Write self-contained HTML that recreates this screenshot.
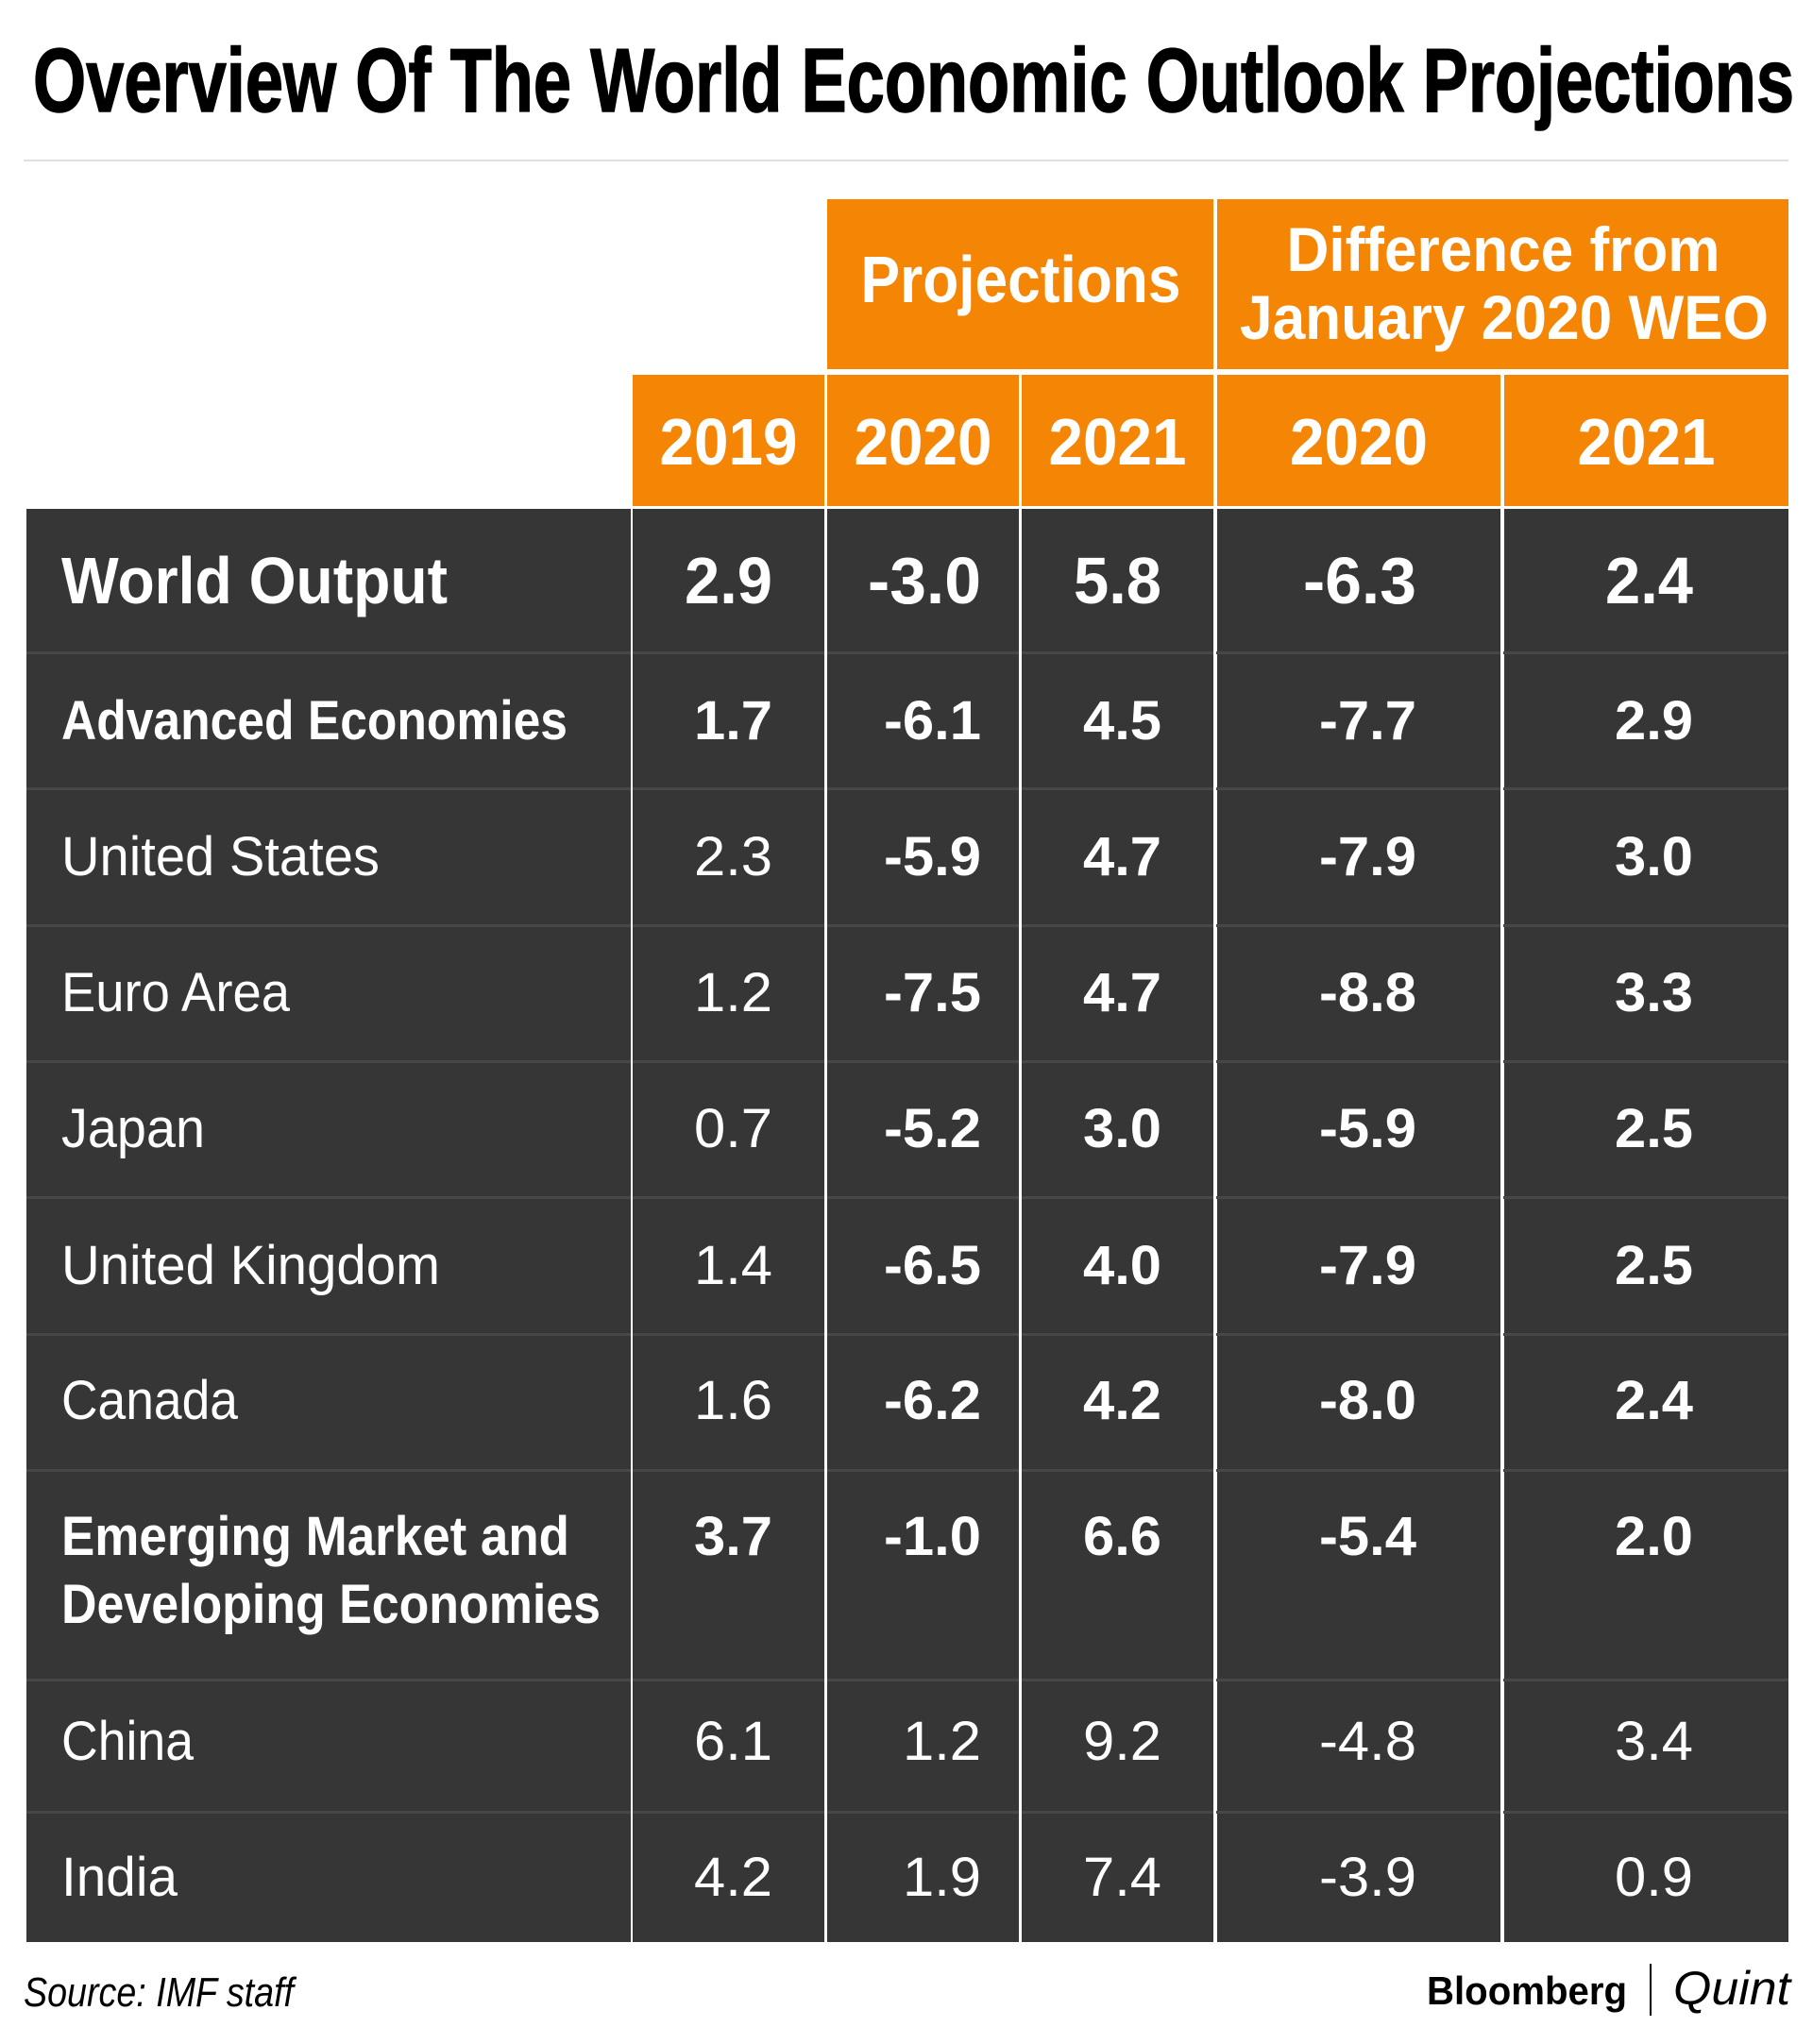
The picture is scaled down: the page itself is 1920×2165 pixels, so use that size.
<!DOCTYPE html>
<html><head><meta charset="utf-8"><style>
html,body{margin:0;padding:0;background:#fff}
svg{display:block}
text{font-family:"Liberation Sans",sans-serif}
</style></head><body>
<svg id="chart" width="1920" height="2165" viewBox="0 0 1920 2165" xmlns="http://www.w3.org/2000/svg">
<rect x="0" y="0" width="1920" height="2165" fill="#fff"/>
<text x="35" y="118" font-size="96" font-weight="bold" fill="#000" stroke="#000" stroke-width="1.5" textLength="1865" lengthAdjust="spacingAndGlyphs">Overview Of The World Economic Outlook Projections</text>
<rect x="25" y="169" width="1869" height="2" fill="#e0e0e0"/>
<g id="table"></g>
<text x="25" y="2125" font-size="44" font-style="italic" fill="#000" textLength="286" lengthAdjust="spacingAndGlyphs">Source: IMF staff</text>
<text x="1511" y="2123" font-size="42" font-weight="bold" fill="#000" textLength="212" lengthAdjust="spacingAndGlyphs">Bloomberg</text>
<rect x="1747" y="2080" width="2" height="55" fill="#000"/>
<text x="1772" y="2123" font-size="50" font-style="italic" fill="#000" font-family="Liberation Serif,serif" textLength="124" lengthAdjust="spacingAndGlyphs">Quint</text>
</svg>
<script>
const rowLabels = ["World Output","Advanced Economies","United States","Euro Area","Japan","United Kingdom","Canada","Emerging Market and|Developing Economies","China","India"];
const labelBold = [true,true,false,false,false,false,false,true,false,false];
const valueBold = [true,true,true,true,true,true,true,true,false,false];
const proj2019 = [2.9,1.7,2.3,1.2,0.7,1.4,1.6,3.7,6.1,4.2];
const proj2020 = [-3.0,-6.1,-5.9,-7.5,-5.2,-6.5,-6.2,-1.0,1.2,1.9];
const proj2021 = [5.8,4.5,4.7,4.7,3.0,4.0,4.2,6.6,9.2,7.4];
const diff2020 = [-6.3,-7.7,-7.9,-8.8,-5.9,-7.9,-8.0,-5.4,-4.8,-3.9];
const diff2021 = [2.4,2.9,3.0,3.3,2.5,2.5,2.4,2.0,3.4,0.9];
const yearLabels = ["2019","2020","2021","2020","2021"];

const NS="http://www.w3.org/2000/svg";
const g=document.getElementById('table');
function mk(tag,attrs,parent){const e=document.createElementNS(NS,tag);for(const k in attrs)e.setAttribute(k,attrs[k]);(parent||g).appendChild(e);return e;}
const ORANGE="#f58505", DARK="#363636";
const colX=[[670,873],[876,1079],[1082,1285],[1289,1589],[1593,1894]];
const numRight=[818,1039,1230,1500,1793];
const labelW=[409,536,337,242,152,401,187,[538,571],140,123];
const rowEdges=[539,692,836,981,1125,1269,1414,1558,1780,1920,2057];
const centers=[614,762,906,1050,1194,1339,1482,1626,1843,1987];

let e=mk('rect',{x:876,y:211,width:409,height:180,fill:ORANGE});


e=mk('text',{x:1081,y:320,'font-size':70,'font-weight':'bold',fill:'#fff','text-anchor':'middle',textLength:339,lengthAdjust:'spacingAndGlyphs'});
e.textContent="Projections";


e=mk('rect',{x:1289,y:211,width:605,height:180,fill:ORANGE});


e=mk('text',{x:1592,y:287,'font-size':66,'font-weight':'bold',fill:'#fff','text-anchor':'middle',textLength:459,lengthAdjust:'spacingAndGlyphs'});
e.textContent="Difference from";


e=mk('text',{x:1593,y:359,'font-size':66,'font-weight':'bold',fill:'#fff','text-anchor':'middle',textLength:560,lengthAdjust:'spacingAndGlyphs'});
e.textContent="January 2020 WEO";



yearLabels.forEach((y,i)=>{
  const [a,b]=colX[i];
  let r=mk('rect',{x:a,y:397,width:b-a,height:139,fill:ORANGE});
  
  
  let t=mk('text',{x:(a+b)/2,y:492,'font-size':70,'font-weight':'bold',fill:'#fff','text-anchor':'middle',textLength:146,lengthAdjust:'spacingAndGlyphs'});
  t.textContent=y;
  
  
});

e=mk('rect',{x:28,y:539,width:640,height:1518,fill:DARK});


colX.forEach(([a,b],i)=>{
  let r=mk('rect',{x:a,y:539,width:b-a,height:1518,fill:DARK});
  
  
});
for(let i=1;i<rowEdges.length-1;i++){
  let s=mk('rect',{x:28,y:rowEdges[i]-2,width:1866,height:3,fill:'#474747'});
  
  
}
[668,873,1079,1285,1589].forEach(x=>{
  let d=mk('rect',{x:x,y:539,width:x===668?2:3,height:1518,fill:'#fff'});
  
  
});

const cols=[proj2019,proj2020,proj2021,diff2020,diff2021];
rowLabels.forEach((lab,i)=>{
  const big=i===0;
  const fs=big?70:58;
  const lines=lab.split('|');
  lines.forEach((ln,j)=>{
    const w=Array.isArray(labelW[i])?labelW[i][j]:labelW[i];
    let t=mk('text',{x:65,y:centers[i]+j*72+fs*0.36,'font-size':fs,'font-weight':labelBold[i]?'bold':'normal',fill:'#fff',textLength:w,lengthAdjust:'spacingAndGlyphs'});
    t.textContent=ln;
    
    
  });
  cols.forEach((arr,c)=>{
    const v=arr[i];
    const s=v.toFixed(1);
    const bold = c===0 ? labelBold[i] : valueBold[i];
    const w=(big?93:83)+(v<0?(big?27:20):0);
    let t=mk('text',{x:numRight[c],y:centers[i]+fs*0.36,'font-size':fs,'font-weight':bold?'bold':'normal',fill:'#fff','text-anchor':'end',textLength:w,lengthAdjust:'spacingAndGlyphs'});
    t.textContent=s;
    
    
  });
});
</script>
</body></html>
